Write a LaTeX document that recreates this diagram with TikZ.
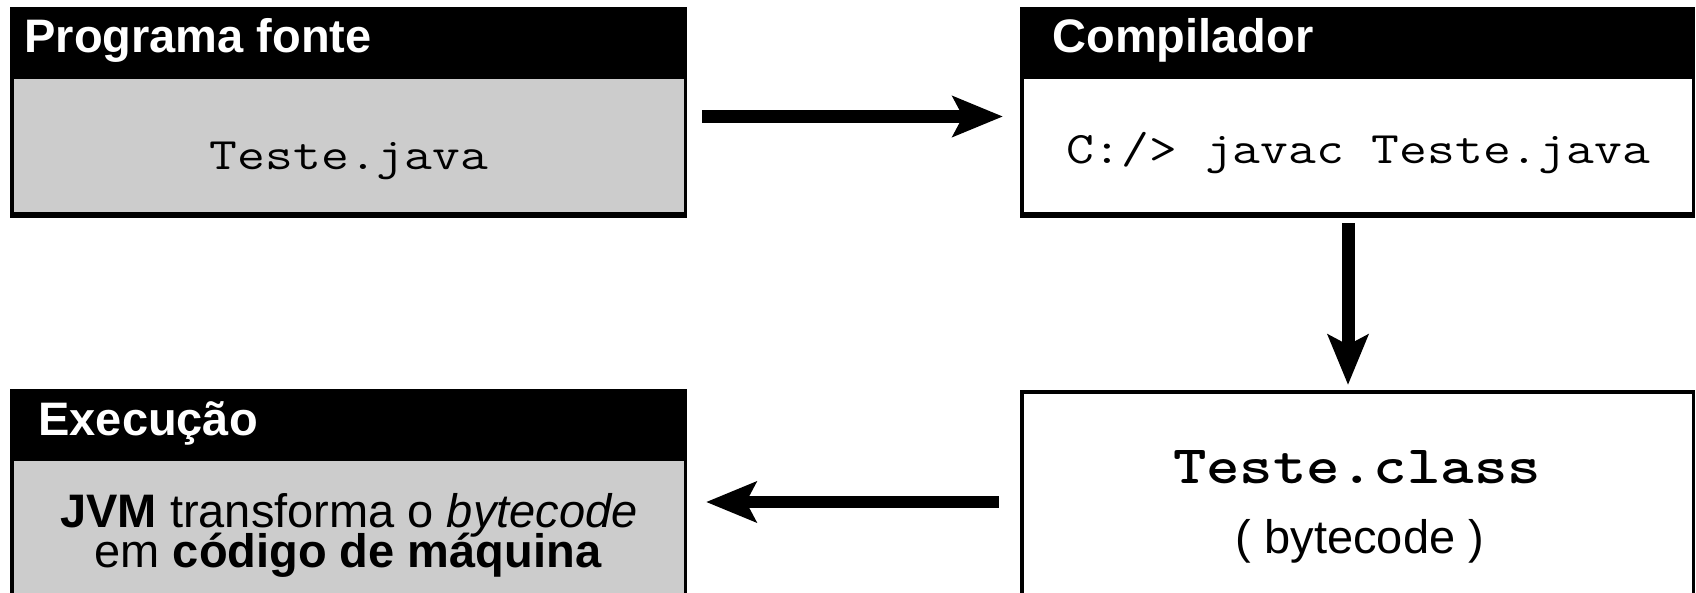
\documentclass[tikz,border=0pt]{standalone}
\usepackage{fontspec}
\usepackage{graphicx}
\setmainfont{Liberation Sans}
\setsansfont{Liberation Sans}
\usetikzlibrary{arrows.meta}
\definecolor{bodygray}{HTML}{CCCCCC}
\newcommand\sanssize{\fontsize{23.5}{28}\selectfont}
\newcommand\monosize{\ttfamily\fontsize{22.5}{27}\selectfont}
\newcommand\classsize{\ttfamily\bfseries\fontsize{27}{32}\selectfont}
\tikzset{
  frame/.style={draw=black, line width=1.75pt, inner sep=0pt, outer sep=0pt, anchor=north west},
  headbar/.style={fill=black, inner sep=0pt, outer sep=0pt, anchor=north west, minimum height=36pt},
  htext/.style={text=white, font=\sanssize\bfseries, inner sep=0pt, anchor=base west},
  btext/.style={text=black, font=\sanssize, inner sep=0pt, anchor=base},
  mtext/.style={text=black, font=\monosize, inner sep=0pt, anchor=base},
  botline/.style={line width=3pt, shorten <=-0.875pt, shorten >=-0.875pt},
  arr/.style={line width=6.5pt, -{Stealth[length=25pt, width=20pt, inset=5pt]}}
}
\begin{document}
\begin{tikzpicture}[x=0.5pt, y=-0.5pt]
\useasboundingbox (0,0) rectangle (1696,593);
\clip (0,0) rectangle (1696,593);
\fill[white] (0,0) rectangle (1696,593);

% Box A: Programa fonte
\node[frame, fill=bodygray, minimum width=336.75pt, minimum height=103.25pt] (A) at (11.75,8.75) {};
\draw[botline] (A.south west) -- (A.south east);
\node[headbar, minimum width=338.5pt] (Ah) at (10,7) {};
\node[htext] (At) at (24,53) {Programa fonte};
\node[mtext] (Ab) at (349,170) {\scalebox{1.2}[1]{Teste.java}};

% Box B: Compilador
\node[frame, fill=white, minimum width=335.75pt, minimum height=103.25pt] (B) at (1021.75,8.75) {};
\draw[botline] (B.south west) -- (B.south east);
\node[headbar, minimum width=337.5pt] (Bh) at (1020,7) {};
\node[htext] (Bt) at (1052,53) {Compilador};
\node[mtext] (Bb) at (1358,164) {\scalebox{1.2}[1]{C:/> javac Teste.java}};

% Box C: Execucao
\node[frame, fill=bodygray, minimum width=336.75pt, minimum height=114.625pt] (C) at (11.75,390.75) {};
\node[headbar, minimum width=338.5pt] (Ch) at (10,389) {};
\node[htext] (Ct) at (38,435) {Execução};
\node[btext] (C1) at (349,527) {\textbf{JVM} transforma o \textit{bytecode}};
\node[btext] (C2) at (348,567) {em \textbf{código de máquina}};

% Box D: Teste.class
\node[frame, fill=white, minimum width=335.75pt, minimum height=114.125pt] (D) at (1021.75,391.75) {};
\node[mtext, font=\classsize] (D1) at (1357,483) {\scalebox{1.18}[1]{Teste.class}};
\node[btext] (D2) at (1360,553) {( bytecode )};

% Arrows
\draw[arr] ([xshift=8.4pt,yshift=-2.25pt]A.east) -- ([xshift=-9.4pt,yshift=-2.25pt]B.west);
\draw[arr] ([xshift=-4.75pt,yshift=-3.9pt]B.south) -- ([xshift=-4.75pt,yshift=3.4pt]D.north);
\draw[arr, line width=5.75pt] ([xshift=-11.4pt,yshift=1.9375pt]D.west) -- ([xshift=10.4pt,yshift=1.6875pt]C.east);
\end{tikzpicture}
\end{document}
